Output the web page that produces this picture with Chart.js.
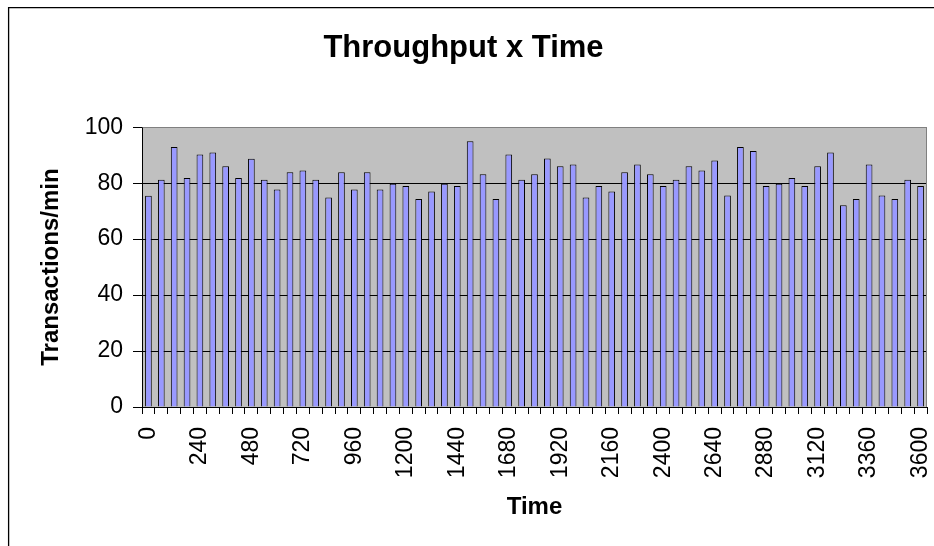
<!DOCTYPE html>
<html>
<head>
<meta charset="utf-8">
<script src="https://cdn.jsdelivr.net/npm/chart.js@4/dist/chart.umd.min.js"></script>
<style>
  html, body { margin: 0; padding: 0; background: #fff; }
  #wrap { position: relative; width: 934px; height: 546px; }
</style>
</head>
<body>
<div id="wrap"><canvas id="chart" width="934" height="546"></canvas></div>
<script>
// Elapsed time (seconds), one sample per minute
const times = [
  0, 60, 120, 180, 240, 300, 360, 420, 480, 540, 600, 660, 720, 780, 840, 900,
  960, 1020, 1080, 1140, 1200, 1260, 1320, 1380, 1440, 1500, 1560, 1620, 1680,
  1740, 1800, 1860, 1920, 1980, 2040, 2100, 2160, 2220, 2280, 2340, 2400, 2460,
  2520, 2580, 2640, 2700, 2760, 2820, 2880, 2940, 3000, 3060, 3120, 3180, 3240,
  3300, 3360, 3420, 3480, 3540, 3600
];

// Transactions completed per minute
const throughput = [
  75.5, 81.2, 92.9, 81.8, 90.2, 91.0, 86.0, 81.8, 88.7, 81.2,
  77.7, 83.9, 84.5, 81.2, 74.9, 83.9, 77.7, 83.9, 77.7, 79.8,
  79.0, 74.3, 77.0, 79.8, 79.0, 95.0, 83.2, 74.3, 90.2, 81.2,
  83.2, 88.8, 86.0, 86.7, 74.9, 79.0, 77.0, 83.9, 86.7, 83.2,
  79.0, 81.2, 86.0, 84.5, 88.1, 75.6, 92.9, 91.5, 79.0, 79.8,
  81.8, 79.0, 86.0, 91.0, 72.1, 74.3, 86.7, 75.6, 74.3, 81.2, 79.0
];

// Time labels shown on the axis (every fourth sample)
const timeLabels = [0, 240, 480, 720, 960, 1200, 1440, 1680, 1920, 2160, 2400, 2640, 2880, 3120, 3360, 3600];

const FONT = '"Liberation Sans", Arial, Helvetica, sans-serif';

// Grey plot background, grey top/right frame and the outer chart border
const framePlugin = {
  id: 'frame',
  beforeDraw(chart) {
    const { ctx, chartArea: a } = chart;
    ctx.save();
    ctx.fillStyle = '#C0C0C0';
    ctx.fillRect(a.left, a.top, a.right - a.left, a.bottom - a.top);
    ctx.strokeStyle = '#000';
    ctx.lineWidth = 1.3;
    ctx.beginPath();
    ctx.moveTo(8.6, chart.height + 2);
    ctx.lineTo(8.6, 7.6);
    ctx.lineTo(chart.width + 2, 7.6);
    ctx.stroke();
    ctx.restore();
  },
  beforeDatasetsDraw(chart) {
    const { ctx, chartArea: a } = chart;
    ctx.save();
    ctx.strokeStyle = '#808080';
    ctx.lineWidth = 1;
    ctx.beginPath();
    ctx.moveTo(Math.round(a.left) + 0.5, Math.round(a.top) + 0.5);
    ctx.lineTo(Math.round(a.right) - 0.5, Math.round(a.top) + 0.5);
    ctx.lineTo(Math.round(a.right) - 0.5, Math.round(a.bottom));
    ctx.stroke();
    ctx.restore();
  }
};

new Chart(document.getElementById('chart'), {
  type: 'bar',
  data: {
    labels: times,
    datasets: [{
      label: 'Throughput',
      data: throughput,
      backgroundColor: '#9999FF',
      borderColor: '#000000',
      borderWidth: 1,
      barPercentage: 0.52,
      categoryPercentage: 1.0
    }]
  },
  plugins: [framePlugin],
  options: {
    responsive: false,
    animation: false,
    devicePixelRatio: 1,
    layout: { padding: { left: 0, right: 7, top: 0, bottom: 0 } },
    plugins: {
      legend: { display: false },
      tooltip: { enabled: false },
      title: {
        display: true,
        text: 'Throughput x Time',
        color: '#000',
        font: { family: FONT, size: 31, weight: 'bold', lineHeight: 1.2 },
        padding: { top: 30, bottom: 60 }
      }
    },
    scales: {
      x: {
        offset: true,
        grid: {
          offset: true,
          drawOnChartArea: false,
          drawTicks: true,
          tickLength: 7,
          tickColor: '#000'
        },
        border: { display: true, color: '#000', width: 1 },
        ticks: {
          autoSkip: false,
          minRotation: 90,
          maxRotation: 90,
          padding: 13,
          color: '#000',
          font: { family: FONT, size: 23 },
          callback(value, index) {
            const t = times[index];
            return timeLabels.includes(t) ? String(t) : '';
          }
        },
        title: {
          display: true,
          text: 'Time',
          color: '#000',
          font: { family: FONT, size: 24, weight: 'bold', lineHeight: 1.2 },
          padding: { top: 0, bottom: 24 }
        },
        afterFit(scale) {
          scale.height = 139;
          scale.paddingLeft = 0;
          scale.paddingRight = 0;
        }
      },
      y: {
        min: 0,
        max: 100,
        ticks: {
          stepSize: 20,
          padding: 10,
          color: '#000',
          font: { family: FONT, size: 23 }
        },
        grid: {
          tickLength: 9,
          tickColor: '#000',
          color(ctx) { return ctx.tick && ctx.tick.value === 100 ? '#808080' : '#000'; },
          lineWidth: 1
        },
        border: { display: true, color: '#000', width: 1 },
        title: {
          display: true,
          text: 'Transactions/min',
          color: '#000',
          font: { family: FONT, size: 24, weight: 'bold', lineHeight: 1.2 },
          padding: { top: 37, bottom: 0 }
        },
        afterFit(scale) { scale.width = 142; }
      }
    }
  }
});
</script>
</body>
</html>
